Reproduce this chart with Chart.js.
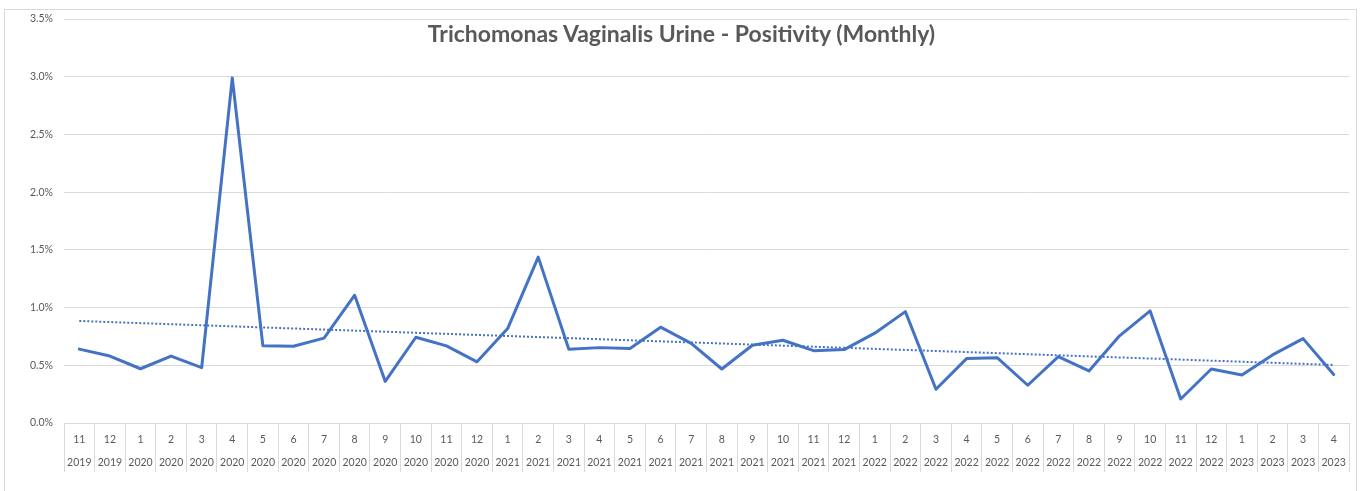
<!DOCTYPE html>
<html>
<head>
<meta charset="utf-8">
<script src="https://cdn.jsdelivr.net/npm/chart.js@4.4.1/dist/chart.umd.min.js"></script>
<style>
  html, body { margin: 0; padding: 0; background: #ffffff; }
  #wrap { position: relative; width: 1361px; height: 491px; overflow: hidden; }
  #frame { position: absolute; left: 4px; top: 9px; width: 1353px; height: 495px; border: 1px solid #d9d9d9; box-sizing: border-box; pointer-events: none; }
  #title { position: absolute; left: 0; top: 21px; width: 1363px; text-align: center; font-family: Lato, "Open Sans", sans-serif; font-weight: bold; font-size: 23px; line-height: 24px; color: #595959; pointer-events: none; }
  canvas { position: absolute; left: 0; top: 0; }
</style>
</head>
<body>
<div id="wrap">
  <div id="frame"></div>
  <canvas id="c" width="1361" height="491"></canvas>
  <div id="title">Trichomonas Vaginalis Urine - Positivity (Monthly)</div>
</div>
<script>
const months = ["11","12","1","2","3","4","5","6","7","8","9","10","11","12","1","2","3","4","5","6","7","8","9","10","11","12","1","2","3","4","5","6","7","8","9","10","11","12","1","2","3","4"];
const years  = ["2019","2019","2020","2020","2020","2020","2020","2020","2020","2020","2020","2020","2020","2020","2021","2021","2021","2021","2021","2021","2021","2021","2021","2021","2021","2021","2022","2022","2022","2022","2022","2022","2022","2022","2022","2022","2022","2022","2023","2023","2023","2023"];
const positivity = [0.64,0.58,0.47,0.58,0.48,2.99,0.67,0.665,0.735,1.107,0.36,0.743,0.668,0.53,0.818,1.437,0.639,0.653,0.645,0.83,0.69,0.468,0.674,0.717,0.627,0.636,0.778,0.965,0.292,0.558,0.566,0.327,0.575,0.451,0.755,0.971,0.208,0.468,0.416,0.59,0.731,0.42];
const yTicks = [0,0.5,1.0,1.5,2.0,2.5,3.0,3.5];

const labels = months.map((m, i) => [m, years[i]]);

// Linear trendline (least squares) from the data
const n = positivity.length;
let sx = 0, sy = 0, sxy = 0, sxx = 0;
positivity.forEach((v, i) => { sx += i; sy += v; sxy += i * v; sxx += i * i; });
const slope = (n * sxy - sx * sy) / (n * sxx - sx * sx);
const intercept = (sy - slope * sx) / n;
const trend = positivity.map((v, i) => intercept + slope * i);

const gridColor = '#d9d9d9';
const textColor = '#595959';
const fontFam = 'Lato, "Open Sans", sans-serif';

new Chart(document.getElementById('c'), {
  type: 'line',
  data: {
    labels: labels,
    datasets: [
      {
        label: 'Positivity',
        data: positivity,
        borderColor: '#4472C4',
        borderWidth: 3,
        pointRadius: 0,
        tension: 0,
        borderJoinStyle: 'round',
        borderCapStyle: 'round'
      },
      {
        label: 'Linear (Positivity)',
        data: trend,
        borderColor: '#4472C4',
        borderWidth: 2,
        borderDash: [2, 2],
        pointRadius: 0,
        tension: 0
      }
    ]
  },
  options: {
    responsive: false,
    animation: false,
    events: [],
    layout: { padding: { left: 0, right: 12, top: 19, bottom: 0 } },
    plugins: { legend: { display: false }, title: { display: false }, tooltip: { enabled: false } },
    scales: {
      x: {
        type: 'category',
        offset: true,
        grid: { offset: true, drawOnChartArea: false, drawTicks: true, tickLength: 49, color: gridColor, lineWidth: 1 },
        border: { display: true, color: gridColor, width: 1 },
        ticks: { autoSkip: false, maxRotation: 0, minRotation: 0, padding: -44, color: textColor, font: { family: fontFam, size: 10.5, lineHeight: 2.2 } },
        afterFit: (s) => { s.height = 68; }
      },
      y: {
        min: 0,
        max: 3.5,
        afterBuildTicks: (s) => { s.ticks = yTicks.map(v => ({ value: v })); },
        grid: { color: gridColor, drawTicks: false, lineWidth: 1 },
        border: { display: false },
        ticks: { padding: 11, color: textColor, font: { family: fontFam, size: 10.5 }, callback: (v) => Number(v).toFixed(1) + '%' },
        afterFit: (s) => { s.width = 64; }
      }
    }
  }
});
</script>
</body>
</html>
